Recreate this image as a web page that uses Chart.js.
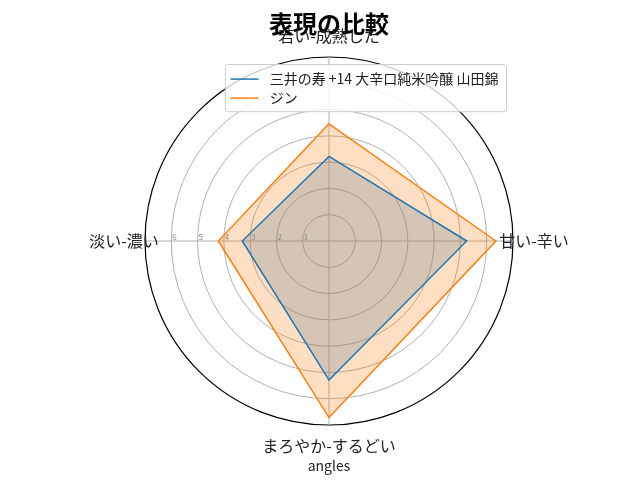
<!DOCTYPE html>
<html>
<head>
<meta charset="utf-8">
<script src="https://cdn.jsdelivr.net/npm/chart.js@4/dist/chart.umd.min.js"></script>
<style>
  html, body { margin: 0; padding: 0; background: #fff; }
  #wrap { width: 640px; height: 480px; }
</style>
</head>
<body>
<div id="wrap"><canvas id="c" width="640" height="480"></canvas></div>
<script>
// Categories in display order (top, right, bottom, left)
const categories = ['若い-成熟した', '甘い-辛い', 'まろやか-するどい', '淡い-濃い'];
const seriesNames = ['三井の寿 +14 大辛口純米吟醸 山田錦', 'ジン'];
const sakeValues = [3.22, 5.24, 5.29, 3.30];
const ginValues = [4.46, 6.35, 6.72, 4.21];
const tickValues = [1, 2, 3, 4, 5, 6];
const titleText = '表現の比較';
const xLabelText = 'angles';

const FONT = '"Noto Sans CJK JP", "Noto Sans", sans-serif';
const BLUE = '#1f77b4';
const ORANGE = '#ff7f0e';

const overlayPlugin = {
  id: 'overlay',
  afterDraw(chart) {
    const ctx = chart.ctx;
    const r = chart.scales.r;
    ctx.save();
    // radial tick labels along the left horizontal axis
    ctx.font = '8px ' + FONT;
    ctx.fillStyle = '#8a8a8a';
    ctx.textAlign = 'left';
    ctx.textBaseline = 'bottom';
    tickValues.forEach(v => {
      const d = r.getDistanceFromCenterForValue(v);
      ctx.fillText(String(v), r.xCenter - d + 1, r.yCenter);
    });
    // category labels
    ctx.font = '16px ' + FONT;
    ctx.fillStyle = '#222';
    ctx.textAlign = 'center';
    ctx.textBaseline = 'middle';
    categories.forEach((c, i) => {
      const p = r.getPointPosition(i, r.drawingArea + 21);
      ctx.fillText(c, p.x, p.y);
    });
    // x label
    ctx.font = '14px ' + FONT;
    ctx.fillStyle = '#222';
    ctx.fillText(xLabelText, r.xCenter, 466);
    // legend (upper right of axes box)
    ctx.font = '14px ' + FONT;
    const pad = 5.6, handle = 28, gap = 11.2, rowH = 19;
    let tw = 0;
    seriesNames.forEach(n => { tw = Math.max(tw, ctx.measureText(n).width); });
    const boxW = pad + handle + gap + tw + pad + 2;
    const boxH = pad + rowH * seriesNames.length + pad - 2;
    const right = r.xCenter + r.drawingArea - 7;
    const top = r.yCenter - r.drawingArea + 7;
    const left = right - boxW;
    ctx.beginPath();
    if (ctx.roundRect) ctx.roundRect(left + 0.5, top + 0.5, boxW, boxH, 3);
    else ctx.rect(left + 0.5, top + 0.5, boxW, boxH);
    ctx.fillStyle = 'rgba(255,255,255,0.8)';
    ctx.fill();
    ctx.strokeStyle = '#cccccc';
    ctx.lineWidth = 1;
    ctx.stroke();
    const colors = [BLUE, ORANGE];
    ctx.textAlign = 'left';
    ctx.textBaseline = 'middle';
    seriesNames.forEach((n, i) => {
      const y = top + pad + rowH * i + rowH / 2;
      ctx.strokeStyle = colors[i];
      ctx.lineWidth = 1.5;
      ctx.beginPath();
      ctx.moveTo(left + pad, y);
      ctx.lineTo(left + pad + handle, y);
      ctx.stroke();
      ctx.fillStyle = '#222';
      ctx.fillText(n, left + pad + handle + gap, y);
    });
    ctx.restore();
  }
};

new Chart(document.getElementById('c'), {
  type: 'radar',
  data: {
    labels: categories,
    datasets: [
      {
        label: seriesNames[0],
        data: sakeValues,
        borderColor: BLUE,
        backgroundColor: 'rgba(31,119,180,0.25)',
        borderWidth: 1.5,
        fill: true,
        pointRadius: 0,
        order: 1
      },
      {
        label: seriesNames[1],
        data: ginValues,
        borderColor: ORANGE,
        backgroundColor: 'rgba(255,127,14,0.25)',
        borderWidth: 1.5,
        fill: true,
        pointRadius: 0,
        order: 0
      }
    ]
  },
  options: {
    responsive: false,
    animation: false,
    layout: { padding: { left: 145, right: 127, top: 0, bottom: 55 } },
    plugins: {
      filler: { drawTime: 'beforeDatasetsDraw' },
      legend: { display: false },
      tooltip: { enabled: false },
      title: {
        display: true,
        text: titleText,
        color: '#000',
        font: { size: 24, weight: 'bold', family: FONT },
        padding: { top: 9, bottom: 19.2 }
      }
    },
    scales: {
      r: {
        min: 0,
        max: 7,
        ticks: { display: false, stepSize: 1 },
        pointLabels: { display: false },
        angleLines: { color: '#b0b0b0', lineWidth: 1 },
        grid: {
          circular: true,
          color: c => (c.tick && c.tick.value === 7) ? '#000' : '#b0b0b0',
          lineWidth: c => (c.tick && c.tick.value === 7) ? 1.2 : 1
        }
      }
    }
  },
  plugins: [overlayPlugin]
});
</script>
</body>
</html>
